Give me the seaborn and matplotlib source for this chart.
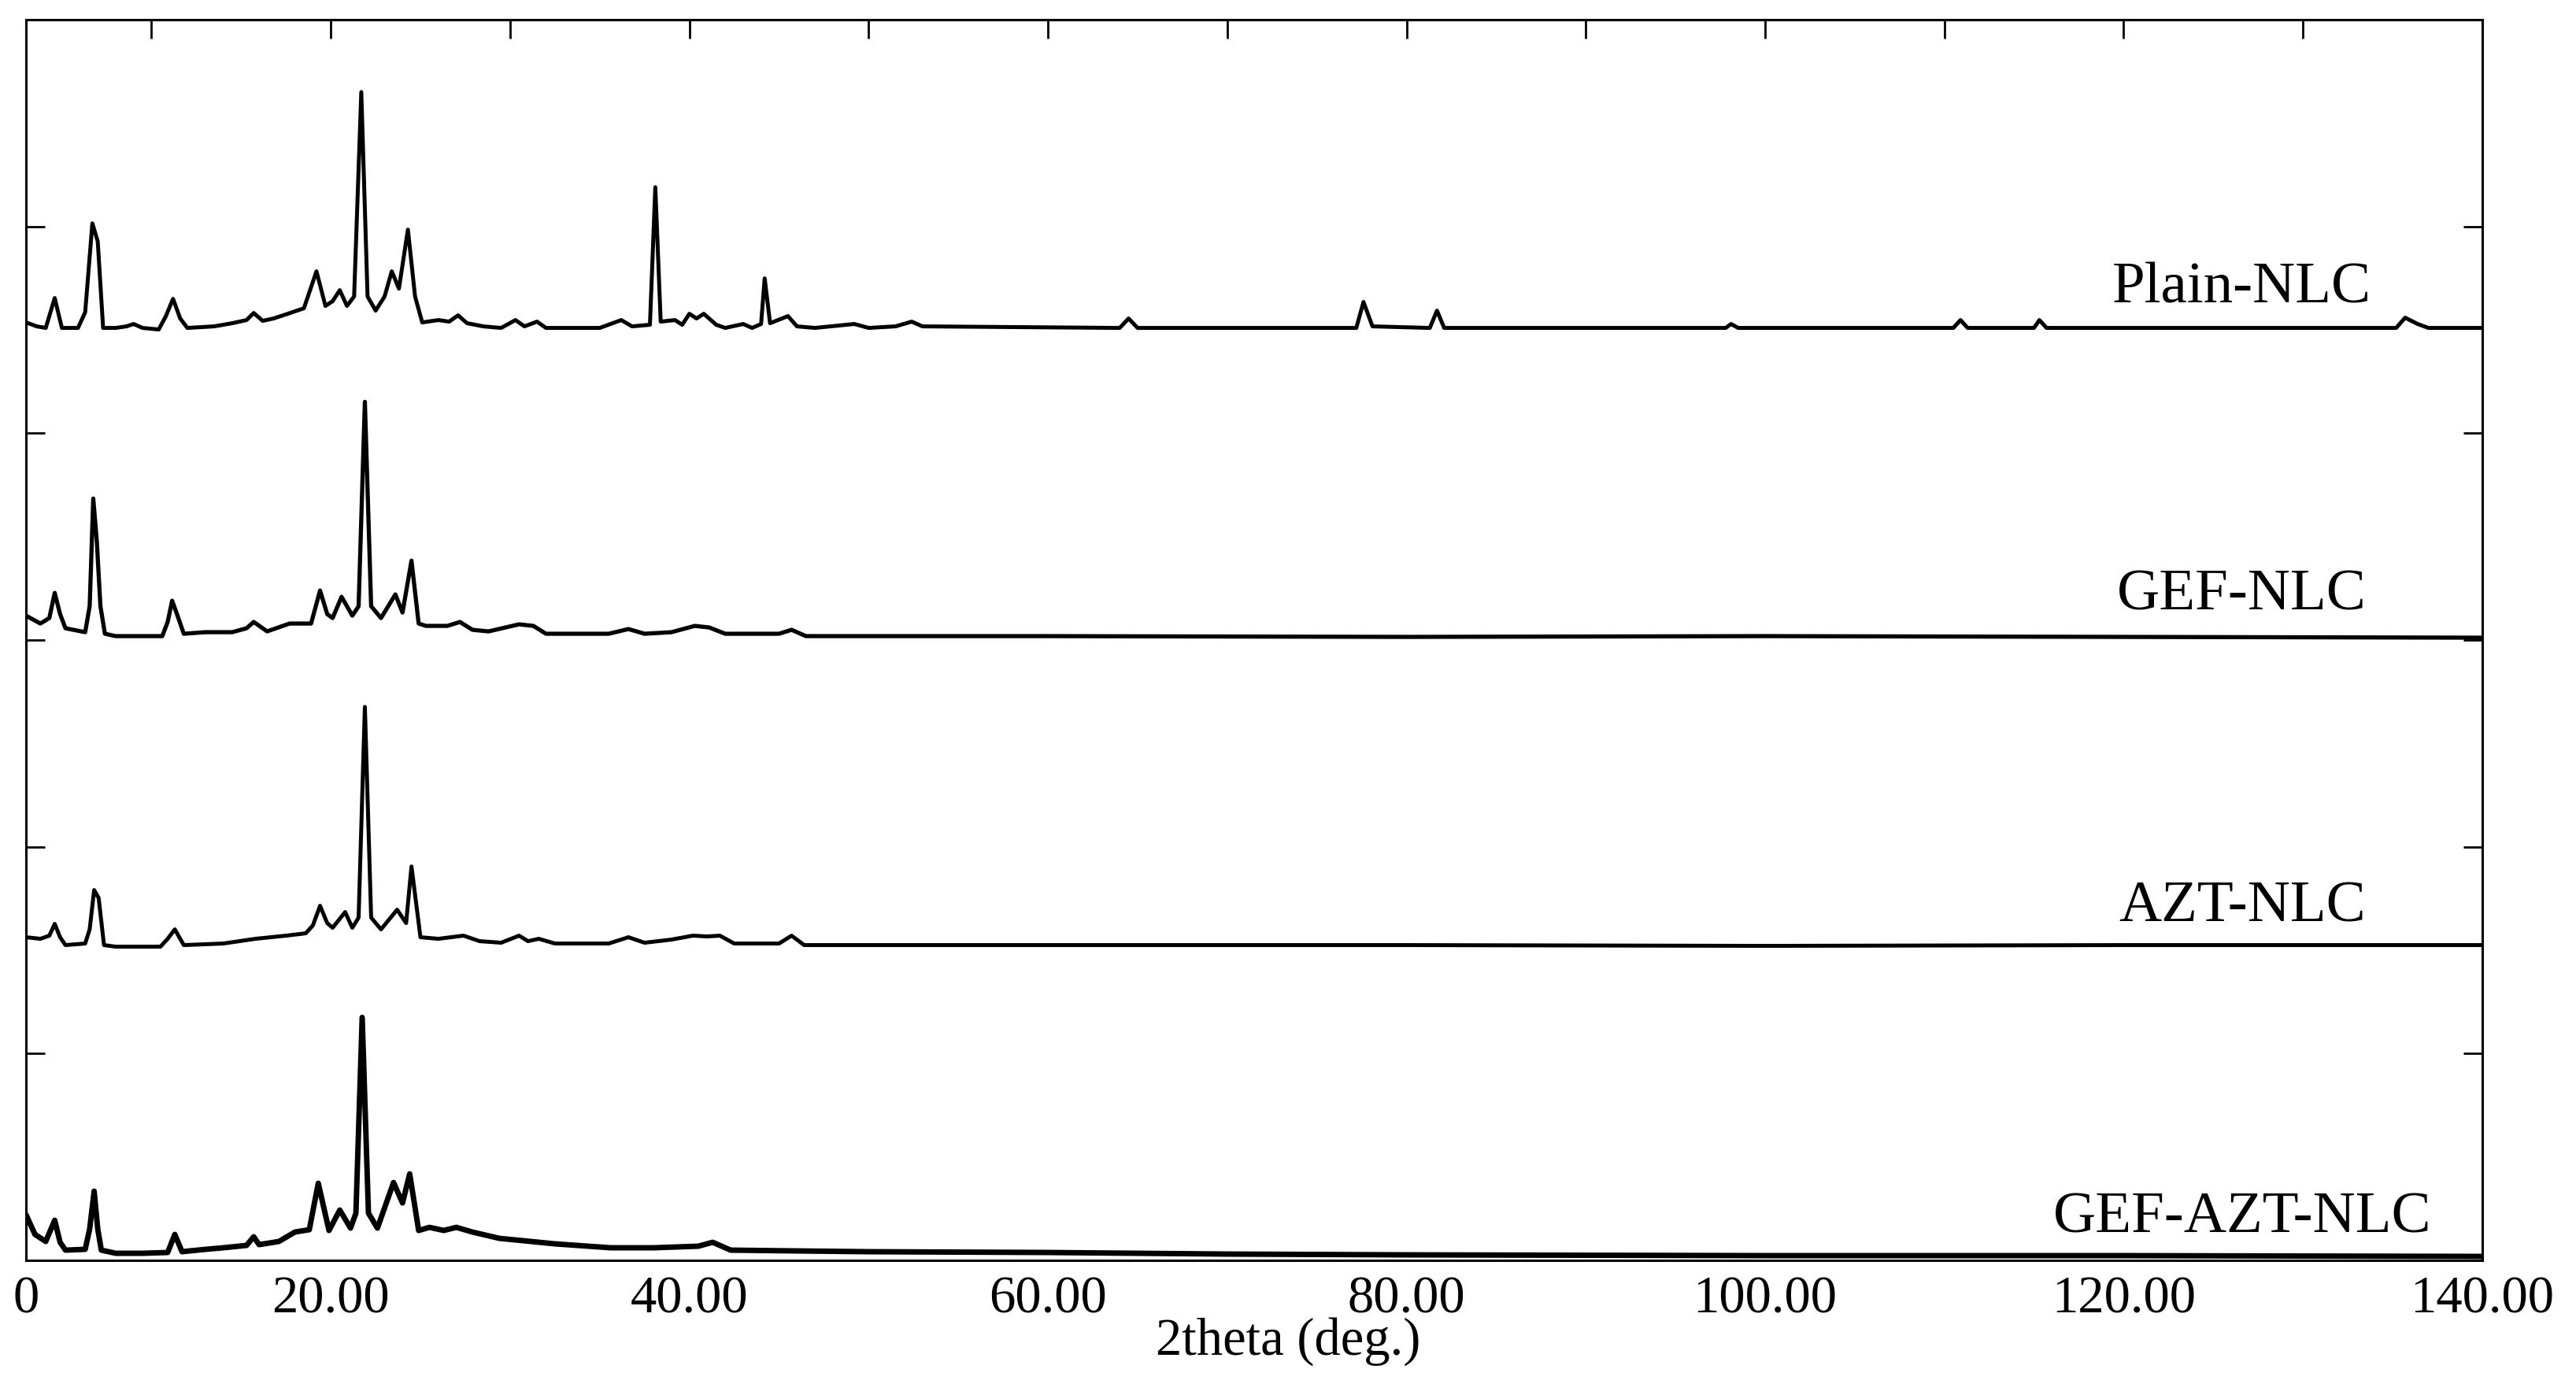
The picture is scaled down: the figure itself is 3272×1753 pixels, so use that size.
import matplotlib
matplotlib.use("Agg")
import matplotlib.pyplot as plt
import seaborn as sns
import pandas as pd

# XRD patterns (2theta in deg, intensity in a.u. above each trace's offset)
samples = ["Plain-NLC", "GEF-NLC", "AZT-NLC", "GEF-AZT-NLC"]
offsets = [1186, 792, 401, 0]

plain_2theta = [3.0, 3.6, 4.1, 4.6, 5.0, 5.9, 6.3, 6.7, 7.0, 7.3, 8.0, 8.6, 9.0, 9.5, 10.4, 10.8,
                11.2, 11.6, 12.0, 13.5, 14.5, 15.3, 15.7, 16.2, 16.8, 17.6, 18.5, 19.2, 19.7, 20.1,
                20.5, 20.9, 21.3, 21.7, 22.05, 22.5, 23.0, 23.4, 23.8, 24.3, 24.7, 25.1, 26.0, 26.6,
                27.1, 27.6, 28.5, 29.5, 30.3, 30.8, 31.5, 32.0, 35.0, 36.2, 36.8, 37.8, 38.1, 38.4,
                39.2, 39.6, 40.0, 40.4, 40.8, 41.5, 42.0, 43.0, 43.5, 44.0, 44.2, 44.5, 45.5, 46.0,
                47.0, 49.2, 50.0, 51.5, 52.4, 53.0, 64.0, 64.5, 65.0, 77.2, 77.6, 78.1, 81.3, 81.7,
                82.1, 97.8, 98.1, 98.5, 110.5, 110.9, 111.3, 115.0, 115.3, 115.7, 135.2, 135.7,
                136.4, 137.0, 140.0]
plain_int = [7, 2, 0, 38, 0, 0, 20, 133, 110, 0, 0, 2, 5, 0, -2, 15,
             37, 12, 0, 2, 6, 10, 19, 9, 12, 18, 25, 72, 28, 34,
             48, 28, 40, 300, 40, 22, 40, 72, 50, 125, 40, 7, 10, 8,
             16, 6, 2, 0, 10, 2, 8, 0, 0, 10, 2, 4, 179, 8,
             10, 4, 18, 12, 18, 4, 0, 5, 0, 5, 63, 6, 15, 2,
             0, 5, 0, 2, 8, 2, 0, 12, 0, 0, 33, 2, 0, 22,
             0, 0, 5, 0, 0, 10, 0, 0, 10, 0, 0, 13,
             5, 0, 0]

gef_2theta = [3.0, 3.8, 4.3, 4.6, 4.9, 5.2, 6.3, 6.55, 6.75, 6.95, 7.15, 7.4, 8.0, 9.0, 10.6,
              10.9, 11.15, 11.45, 11.8, 13.0, 14.5, 15.3, 15.7, 16.45, 17.7, 18.9, 19.4, 19.8,
              20.1, 20.6, 21.2, 21.55, 21.9, 22.25, 22.8, 23.6, 24.0, 24.5, 24.9, 25.3, 26.5,
              27.2, 27.9, 28.8, 30.5, 31.3, 32.0, 35.5, 36.6, 37.5, 39.0, 40.3, 41.1, 42.0,
              45.0, 45.7, 46.5, 60.0, 80.0, 100.0, 120.0, 140.0]
gef_int = [28, 18, 25, 57, 30, 12, 7, 40, 177, 122, 40, 5, 2, 2, 2,
           20, 47, 28, 5, 7, 7, 12, 20, 8, 18, 18, 60, 30,
           25, 52, 28, 40, 300, 40, 25, 55, 32, 98, 18, 15, 15,
           20, 10, 8, 17, 15, 5, 5, 11, 5, 7, 15, 13, 5,
           5, 10, 2, 2, 1, 2, 1, 0]

azt_2theta = [3.0, 3.8, 4.3, 4.6, 4.9, 5.2, 6.3, 6.55, 6.8, 7.05, 7.35, 8.0, 10.5, 10.9, 11.3,
              11.8, 14.0, 15.8, 17.5, 18.6, 19.0, 19.4, 19.8, 20.1, 20.8, 21.2, 21.55, 21.9, 22.25,
              22.8, 23.7, 24.2, 24.5, 25.0, 26.0, 27.4, 28.3, 29.5, 30.5, 31.0, 31.6, 32.5, 35.5,
              36.6, 37.5, 39.0, 40.2, 41.0, 41.7, 42.5, 45.0, 45.7, 46.4, 60.0, 80.0, 100.0,
              120.0, 140.0]
azt_int = [10, 8, 12, 27, 10, 0, 2, 20, 70, 60, 0, -2, -2, 8, 20,
           0, 2, 8, 12, 15, 25, 50, 28, 22, 42, 22, 35, 303, 35,
           20, 45, 28, 100, 10, 8, 12, 5, 3, 12, 5, 8, 2, 2,
           10, 3, 7, 12, 11, 12, 2, 2, 12, 0, 0, 0, -1,
           0, 0]

gefazt_2theta = [3.0, 3.5, 4.1, 4.6, 4.9, 5.2, 6.3, 6.55, 6.8, 7.0, 7.2, 8.0, 9.5, 10.9, 11.3,
                 11.7, 13.0, 14.0, 15.3, 15.7, 16.0, 17.1, 18.0, 18.8, 19.3, 19.9, 20.5, 21.1,
                 21.4, 21.75, 22.1, 22.6, 23.5, 24.0, 24.4, 24.9, 25.5, 26.3, 27.0, 27.9, 29.4,
                 32.5, 35.6, 38.0, 40.5, 41.3, 42.3, 46.0, 50.0, 60.0, 70.0, 80.0, 100.0, 120.0,
                 140.0]
gefazt_int = [58, 33, 24, 51, 23, 13, 14, 40, 88, 40, 13, 9, 9, 10, 33,
              11, 14, 16, 19, 30, 20, 24, 36, 39, 98, 38, 64, 41,
              60, 309, 60, 41, 99, 73, 110, 38, 42, 38, 42, 36, 28,
              21, 16, 16, 18, 23, 13, 12, 11, 10, 8, 7, 6, 6,
              5]

top_ticks = list(range(10, 141, 10))
bottom_ticks = [3.0, 20, 40, 60, 80, 100, 120, 140]
bottom_labels = ["0", "20.00", "40.00", "60.00", "80.00", "100.00", "120.00", "140.00"]
y_ticks = [263, 526, 789, 1052, 1315]

patterns = {
    "Plain-NLC": (plain_2theta, plain_int),
    "GEF-NLC": (gef_2theta, gef_int),
    "AZT-NLC": (azt_2theta, azt_int),
    "GEF-AZT-NLC": (gefazt_2theta, gefazt_int),
}

rows = []
for name, off in zip(samples, offsets):
    xs, ys = patterns[name]
    for x, y in zip(xs, ys):
        rows.append({"sample": name, "2theta": x, "intensity": y + off})
df = pd.DataFrame(rows)

sns.set_theme(style="white")
plt.rcParams["font.family"] = ["Liberation Serif", "DejaVu Serif"]

fig = plt.figure(figsize=(32.73, 17.53), dpi=100)
ax = fig.add_axes([0.0101, 0.0867, 0.9532, 0.899])

widths = {"Plain-NLC": 3.6, "GEF-NLC": 3.8, "AZT-NLC": 3.6, "GEF-AZT-NLC": 5.0}
for name in samples:
    sns.lineplot(data=df[df["sample"] == name], x="2theta", y="intensity",
                 color="black", lw=widths[name], estimator=None, sort=False, ax=ax)

# sample names next to each trace
label_x = 126.6
label_y = [1218, 828, 431, 36]
for name, ly in zip(samples, label_y):
    ax.text(label_x, ly, name, ha="center", va="baseline", fontsize=54, color="black")

ax.set_xlim(3.0, 140)
ax.set_ylim(0, 1578)
ax.set_xticks(bottom_ticks)
ax.set_xticklabels(bottom_labels)
ax.set_yticks(y_ticks)
ax.tick_params(axis="x", length=0, pad=14, labelsize=48, colors="black")
ax.tick_params(axis="y", left=True, right=True, direction="in", length=17, width=2,
               labelleft=False, color="black")

top = ax.secondary_xaxis("top")
top.set_xticks(top_ticks)
top.tick_params(direction="in", length=17, width=2, labeltop=False, color="black")
top.spines["top"].set_linewidth(2.2)

ax.set_xlabel("2theta (deg.)", fontsize=48, color="black")
ax.xaxis.set_label_coords(0.514, -0.046)
ax.set_ylabel("")

for sp in ax.spines.values():
    sp.set_color("black")
    sp.set_linewidth(2.2)

fig.savefig("out.png", dpi=100, facecolor="white")
